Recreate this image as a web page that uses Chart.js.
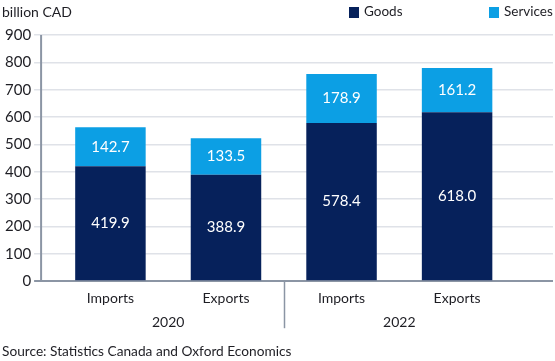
<!DOCTYPE html>
<html>
<head>
<meta charset="utf-8">
<script src="https://cdn.jsdelivr.net/npm/chart.js@4.4.1/dist/chart.umd.min.js"></script>
<style>
  html, body { margin: 0; padding: 0; background: #fff; }
  #wrap { width: 555px; height: 361px; position: relative; }
</style>
</head>
<body>
<div id="wrap"><canvas id="myChart"></canvas></div>
<script>
// data
const xLabels = ["Imports", "Exports", "Imports", "Exports"];
const years = ["2020", "2022"];
const goods = [419.9, 388.9, 578.4, 618.0];
const services = [142.7, 133.5, 178.9, 161.2];
const yTicks = [0, 100, 200, 300, 400, 500, 600, 700, 800, 900];

const NAVY = "#06215b";
const BLUE = "#0c9fe4";
const TXT = "#1e1e24";
const AXIS = "#8b95a4";
const GRID = "#dfe2e8";
const FONT = "Lato, 'Open Sans', sans-serif";

let ctx = document.getElementById("myChart");

const extras = {
  id: "extras",
  afterDatasetsDraw(chart) {
    const c = chart.ctx;
    const xs = chart.scales.x;
    const area = chart.chartArea;
    c.save();
    // values inside bars
    c.font = "15px " + FONT;
    c.fillStyle = "#fff";
    c.textAlign = "center";
    c.textBaseline = "middle";
    chart.data.datasets.forEach((ds, di) => {
      chart.getDatasetMeta(di).data.forEach((bar, i) => {
        const p = bar.getProps(["x", "y", "base"], true);
        c.fillText(ds.data[i].y.toFixed(1), p.x, (p.y + p.base) / 2);
      });
    });
    // y axis line
    c.strokeStyle = AXIS;
    c.lineWidth = 2;
    c.beginPath();
    c.moveTo(area.left, area.top);
    c.lineTo(area.left, area.bottom);
    c.stroke();
    // group divider
    const dx = Math.round(xs.getPixelForValue(1.5)) + 0.5;
    c.lineWidth = 1.5;
    c.beginPath();
    c.moveTo(dx, area.bottom);
    c.lineTo(dx, area.bottom + 47);
    c.stroke();
    // year labels
    c.fillStyle = TXT;
    c.font = "14px " + FONT;
    years.forEach((y, g) => {
      const cx = (xs.getPixelForValue(g * 2) + xs.getPixelForValue(g * 2 + 1)) / 2;
      c.fillText(y, cx, area.bottom + 41);
    });
    // unit title
    c.textAlign = "left";
    c.fillText("billion CAD", 2, 12);
    // source
    c.font = "13.7px " + FONT;
    c.fillText("Source: Statistics Canada and Oxford Economics", 2, 352);
    // legend
    c.font = "13.5px " + FONT;
    const items = [["Goods", NAVY, 349], ["Services", BLUE, 489]];
    items.forEach(([lab, col, lx]) => {
      c.fillStyle = col;
      c.fillRect(lx, 7, 10, 11);
      c.fillStyle = TXT;
      c.fillText(lab, lx + 15, 12);
    });
    c.restore();
  }
};

let chartt = new Chart(ctx, {
  type: "bar",
  data: {
    datasets: [
      {
        label: "Goods",
        backgroundColor: NAVY,
        data: goods.map((v, i) => ({ x: i, y: v })),
        categoryPercentage: 1,
        barPercentage: 0.61,
      },
      {
        label: "Services",
        backgroundColor: BLUE,
        data: services.map((v, i) => ({ x: i, y: v })),
        categoryPercentage: 1,
        barPercentage: 0.61,
      },
    ],
  },
  options: {
    responsive: true,
    maintainAspectRatio: false,
    animation: false,
    layout: { padding: { top: 35, left: 2, right: 2, bottom: 45 } },
    plugins: {
      legend: { display: false },
      tooltip: { enabled: false },
    },
    scales: {
      x: {
        type: "linear",
        stacked: true,
        offset: false,
        min: -0.6,
        max: 3.83,
        afterBuildTicks: (s) => { s.ticks = xLabels.map((l, i) => ({ value: i })); },
        grid: { display: false, drawTicks: false },
        border: { display: false },
        ticks: {
          callback: (v) => xLabels[v],
          color: TXT,
          font: { family: FONT, size: 14 },
          padding: 9,
          maxRotation: 0,
          autoSkip: false,
        },
      },
      y: {
        stacked: true,
        min: 0,
        max: 900,
        afterBuildTicks: (s) => { s.ticks = yTicks.map((v) => ({ value: v })); },
        border: { display: false },
        grid: {
          color: (c) => (c.tick && c.tick.value === 0 ? AXIS : GRID),
          lineWidth: (c) => (c.tick && c.tick.value === 0 ? 2 : 1.5),
          tickLength: 7,
        },
        ticks: {
          color: TXT,
          font: { family: FONT, size: 15 },
          padding: 3,
        },
      },
    },
  },
  plugins: [extras],
});
</script>
</body>
</html>
